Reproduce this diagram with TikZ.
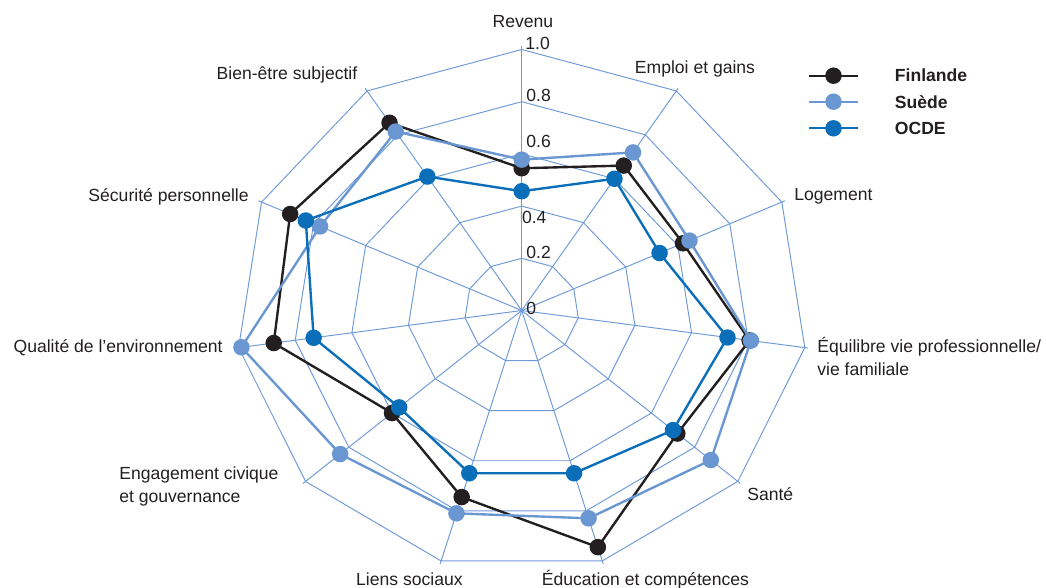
\documentclass[tikz,border=0pt]{standalone}
\usepackage{fontspec}
\setmainfont{Liberation Sans}
\usepackage{tikz}
\usetikzlibrary{positioning}

\definecolor{finblack}{HTML}{231F20}
\definecolor{swelight}{HTML}{6A97D2}
\definecolor{oecdblue}{HTML}{0B6EB8}
\definecolor{gridblue}{HTML}{6E9AD8}

% point on axis #1 (0..10) at value #2
\newcommand{\radarx}[2]{521.7+286*#2*sin(#1*360/11)}
\newcommand{\radary}[2]{310.5-261*#2*cos(#1*360/11)}

\begin{document}
\begin{tikzpicture}[x=0.02cm, y=-0.02cm,
    gridline/.style={draw=gridblue, line width=0.55pt},
    serie/.style={line width=1.35pt, line join=round},
    dot/.style={circle, fill=#1, inner sep=0pt, minimum size=0.33cm},
    axislabel/.style={font=\fontsize{10}{12.9}\selectfont, text=finblack,
      inner sep=0pt},
    ticklabel/.style={font=\fontsize{10}{12}\selectfont, text=finblack,
      inner sep=0pt, anchor=base west},
    legendlabel/.style={font=\fontsize{10}{12}\selectfont\bfseries,
      text=finblack, inner sep=0pt}, ]
    \useasboundingbox (0,0) rectangle (1046,588);
    % Grid
    \coordinate (centre) at (521.7,310.5);
    \foreach \r in {0.2,0.4,0.6,0.8,1} {
      \draw[gridline] ({\radarx{0}{\r}},{\radary{0}{\r}})
        \foreach \k in {1,...,10} {-- ({\radarx{\k}{\r}},{\radary{\k}{\r}})} -- cycle;
    }
    \foreach \k in {0,...,10} {
      \coordinate (tip-\k) at ({\radarx{\k}{1.012}},{\radary{\k}{1.012}});
      \draw[gridline] (centre) -- (tip-\k);
    }
    % Data points
    \foreach \v [count=\k from 0] in {0.545,0.66,0.62,0.805,0.72,0.945,0.745,0.6,0.876,0.89,0.855}
      \coordinate (fin-\k) at ({\radarx{\k}{\v}},{\radary{\k}{\v}});
    \foreach \v [count=\k from 0] in {0.578,0.72,0.645,0.81,0.875,0.83,0.81,0.84,0.99,0.775,0.815}
      \coordinate (swe-\k) at ({\radarx{\k}{\v}},{\radary{\k}{\v}});
    \foreach \v [count=\k from 0] in {0.457,0.6,0.53,0.727,0.7,0.65,0.65,0.567,0.735,0.83,0.61}
      \coordinate (oecd-\k) at ({\radarx{\k}{\v}},{\radary{\k}{\v}});
    % Lines
    \draw[serie, finblack] (fin-0) \foreach \k in {1,...,10} {-- (fin-\k)} -- cycle;
    \foreach \k in {0,...,10} \node[dot=finblack] (fin-dot-\k) at (fin-\k) {};
    \draw[serie, swelight] (swe-0) \foreach \k in {1,...,10} {-- (swe-\k)} -- cycle;
    \foreach \k in {0,...,10} \node[dot=swelight] (swe-dot-\k) at (swe-\k) {};
    \draw[serie, oecdblue] (oecd-0) \foreach \k in {1,...,10} {-- (oecd-\k)} -- cycle;
    \foreach \k in {0,...,10} \node[dot=oecdblue] (oecd-dot-\k) at (oecd-\k) {};
    % Axis labels
    \node[axislabel, anchor=base] (revenu) at (523,28) {Revenu};
    \node[axislabel, anchor=base] (emploi) at (695,73.3) {Emploi et gains};
    \node[axislabel, anchor=base west] (logement) at (794,200.7) {Logement};
    \node[axislabel, anchor=base west, align=left] (equilibre) at (817,375.5)
      {Équilibre vie professionnelle/\\vie familiale};
    \node[axislabel, anchor=base west] (sante) at (747,500) {Santé};
    \node[axislabel, anchor=base west] (education) at (541.5,585)
      {Éducation et compétences};
    \node[axislabel, anchor=base east] (liens) at (463,585) {Liens sociaux};
    \node[axislabel, anchor=base west, align=left] (engagement) at (119,502.5)
      {Engagement civique\\et gouvernance};
    \node[axislabel, anchor=base east] (qualite) at (223,353)
      {Qualité de l’environnement};
    \node[axislabel, anchor=base east] (securite) at (249,201.7)
      {Sécurité personnelle};
    \node[axislabel, anchor=base] (bienetre) at (287,80) {Bien-être subjectif};
    % Scale
    \node[ticklabel] (tick-10) at (525,50) {1.0};
    \node[ticklabel] (tick-08) at (526,101.5) {0.8};
    \node[ticklabel] (tick-06) at (526,148) {0.6};
    \node[ticklabel] (tick-04) at (521.7,224) {0.4};
    \node[ticklabel] (tick-02) at (526,258) {0.2};
    \node[ticklabel] (tick-00) at (526,315) {0};
    % Legend
    \node[dot=finblack] (fin-key) at (833.5,75.7) {};
    \coordinate[left=0.5cm of fin-key.center] (fin-key-a);
    \coordinate[right=0.5cm of fin-key.center] (fin-key-b);
    \draw[serie, finblack] (fin-key-a) -- (fin-key-b);
    \node[legendlabel, right=1.05cm of fin-key] (fin-text) {Finlande};
    \node[dot=swelight] (swe-key) at (833.5,101.7) {};
    \coordinate[left=0.5cm of swe-key.center] (swe-key-a);
    \coordinate[right=0.5cm of swe-key.center] (swe-key-b);
    \draw[serie, swelight] (swe-key-a) -- (swe-key-b);
    \node[legendlabel, right=1.05cm of swe-key] (swe-text) {Suède};
    \node[dot=oecdblue] (oecd-key) at (833.5,128.3) {};
    \coordinate[left=0.5cm of oecd-key.center] (oecd-key-a);
    \coordinate[right=0.5cm of oecd-key.center] (oecd-key-b);
    \draw[serie, oecdblue] (oecd-key-a) -- (oecd-key-b);
    \node[legendlabel, right=1.05cm of oecd-key] (oecd-text) {OCDE};
  \end{tikzpicture}
\end{document}
